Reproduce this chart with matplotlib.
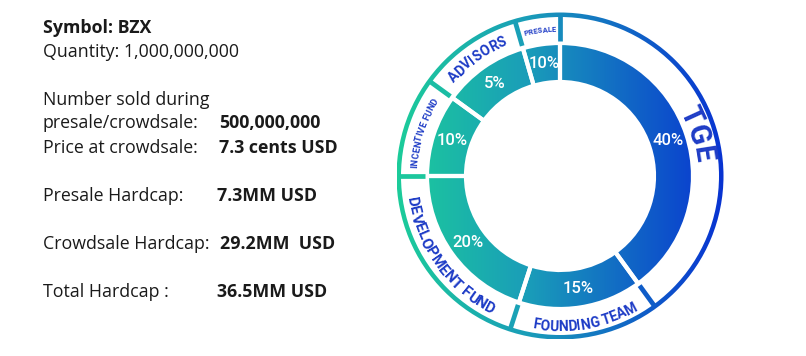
import numpy as np
import matplotlib
matplotlib.use("Agg")
import matplotlib.pyplot as plt
from matplotlib.colors import LinearSegmentedColormap
from matplotlib.font_manager import FontProperties, findfont, get_font
from matplotlib.collections import LineCollection

# ---------------- data ----------------
categories = ["TGE", "FOUNDING TEAM", "DEVELOPMENT FUND", "INCENTIVE FUND", "ADVISORS", "PRESALE"]
pct_labels = ["40%", "15%", "20%", "10%", "5%", "10%"]
# slice shares as drawn in the graphic
slice_sizes = [40, 15, 20, 10, 10.5, 4.5]

info_labels = ["Number sold during", "presale/crowdsale:", "Price at crowdsale:",
               "Presale Hardcap:", "Crowdsale Hardcap:", "Total Hardcap :"]
info_values = ["", "500,000,000", "7.3 cents USD", "7.3MM USD", "29.2MM  USD", "36.5MM USD"]
symbol_text = "Symbol: BZX"
quantity_text = "Quantity: 1,000,000,000"

# ---------------- figure ----------------
W, H = 806, 356
DPI = 100
fig = plt.figure(figsize=(W / DPI, H / DPI), dpi=DPI)
ax = fig.add_axes([0, 0, 1, 1])
ax.set_axis_off()

cx, cy = 560, 180
R_in_out, R_in_w = 133, 39
R_outer = 163.5

cmap = LinearSegmentedColormap.from_list(
    "grad", [(0.0, "#1ccc9a"), (0.4, "#1a9db9"), (1.0, "#0833d2")])
gx0, gx1 = cx - R_outer, cx + R_outer
grad = np.linspace(0, 1, 512).reshape(1, -1)

def grad_color(x):
    return cmap(np.clip((x - gx0) / (gx1 - gx0), 0, 1))

# inner ring
wedges, _ = ax.pie(slice_sizes, startangle=90, counterclock=False, radius=R_in_out,
                   center=(cx, cy), normalize=True,
                   wedgeprops=dict(width=R_in_w, edgecolor="white", linewidth=3))
for w in wedges:
    w.set_facecolor("none")
    w.set_zorder(3)
    im = ax.imshow(grad, cmap=cmap, extent=[gx0, gx1, cy - R_outer, cy + R_outer],
                   aspect="auto", zorder=2, interpolation="bilinear")
    im.set_clip_path(w)

# outer thin circle
ring, _ = ax.pie([1], radius=R_outer, center=(cx, cy), normalize=True,
                 wedgeprops=dict(width=4.5, linewidth=0))
for w in ring:
    w.set_facecolor("none")
    im = ax.imshow(grad, cmap=cmap, extent=[gx0, gx1, cy - R_outer, cy + R_outer],
                   aspect="auto", zorder=2, interpolation="bilinear")
    im.set_clip_path(w)

# separators in the label band, at the wedge boundaries
segs, cols = [], []
for w in wedges:
    th = np.radians(w.theta1)
    r1, r2 = R_in_out + 2.5, R_outer - 2
    p1 = (cx + r1 * np.cos(th), cy + r1 * np.sin(th))
    p2 = (cx + r2 * np.cos(th), cy + r2 * np.sin(th))
    segs.append([p1, p2])
    cols.append(grad_color((p1[0] + p2[0]) / 2))
ax.add_collection(LineCollection(segs, colors=cols, linewidths=3.4, zorder=4, capstyle="butt"))

# percentage labels
r_mid = R_in_out - R_in_w / 2
for w, lab in zip(wedges, pct_labels):
    th = np.radians((w.theta1 + w.theta2) / 2)
    ax.text(cx + r_mid * np.cos(th), cy + r_mid * np.sin(th), lab, color="white",
            ha="center", va="center", fontsize=12, fontfamily="Roboto", fontweight="medium",
            zorder=5)

# curved category labels
label_color = "#1e3cc6"

def arc_text(s, theta_c, r, size, outward=True):
    fp = FontProperties(family="Roboto", weight="bold", size=size)
    font = get_font(findfont(fp))
    font.set_size(size, DPI)
    adv = []
    for ch in s:
        g = font.load_char(ord(ch))
        adv.append(g.linearHoriAdvance / 65536.0)
    pos = np.concatenate([[0], np.cumsum(adv)])
    total = pos[-1]
    cap = 0.71 * size * DPI / 72
    rb = r - cap / 2 if outward else r + cap / 2
    for i, ch in enumerate(s):
        if ch == " ":
            continue
        sc = (pos[i] + pos[i + 1]) / 2 - total / 2
        d = np.degrees(sc / rb)
        th = theta_c + d if outward else theta_c - d
        t = np.radians(th)
        x, y = cx + rb * np.sin(t), cy + rb * np.cos(t)
        rot = -th if outward else 180 - th
        ax.text(x, y, ch, rotation=rot, rotation_mode="anchor", ha="center",
                va="baseline", fontproperties=fp, color=label_color, zorder=6)

# (name, centre angle clockwise from top, radius, size, outward)
arc_specs = [(categories[0], 73, 146, 21, True),
             (categories[1], 170, 150, 10, False),
             (categories[2], 234, 149, 11, False),
             (categories[3], 287.5, 146, 6.6, True),
             (categories[4], 324.6, 146, 10, True),
             (categories[5], 352, 147, 5.5, True)]
for s, th, r, size, outw in arc_specs:
    arc_text(s, th, r, size, outw)

# ---------------- left text block ----------------
txt_color = "#1a1a1a"
fs = 12.8
def yy(v):
    return H - v
ax.text(43, yy(33), symbol_text, fontsize=fs, fontfamily="Open Sans", fontweight="bold",
        color=txt_color, va="baseline")
ax.text(43, yy(57), quantity_text, fontsize=fs, fontfamily="Open Sans", color=txt_color,
        va="baseline")
label_y = [105, 128, 153, 201, 249, 297]
value_x = [219, 219, 219, 217, 220, 217]
for lab, val, y, vx in zip(info_labels, info_values, label_y, value_x):
    ax.text(43, yy(y), lab, fontsize=fs, fontfamily="Open Sans", color=txt_color, va="baseline")
    if val:
        ax.text(vx, yy(y), val, fontsize=fs, fontfamily="Open Sans", fontweight="bold",
                color=txt_color, va="baseline")

ax.set_xlim(0, W)
ax.set_ylim(0, H)
ax.set_aspect("equal")
ax.set_position([0, 0, 1, 1])
fig.savefig("out.png", dpi=DPI, facecolor="white")
